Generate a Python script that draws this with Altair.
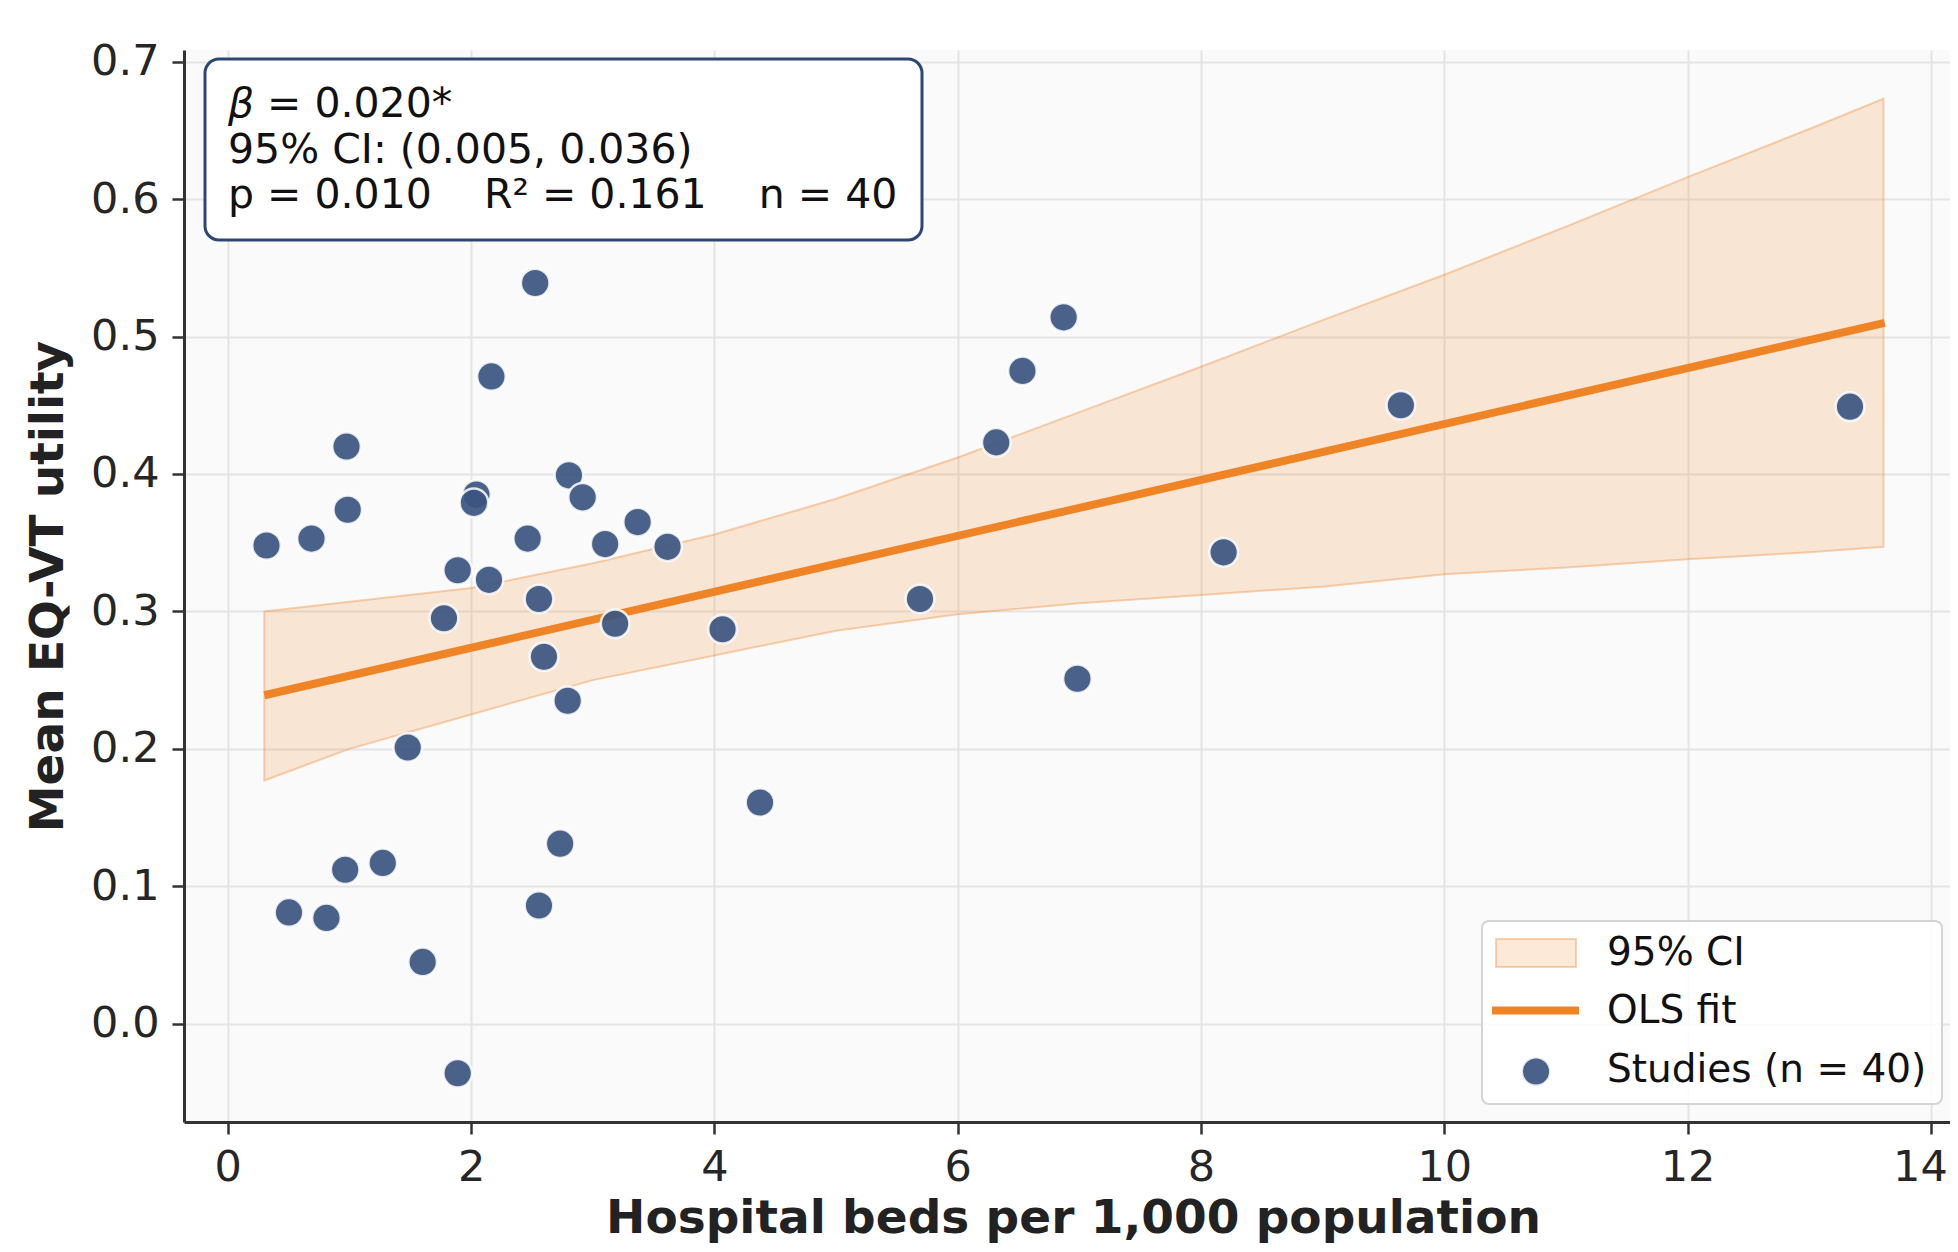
import altair as alt
import pandas as pd

# ---- data ----
beds = [0.318, 0.503, 0.688, 0.811, 0.976, 0.965, 0.986, 1.274, 1.479, 1.602,
        1.777, 1.890, 1.890, 2.044, 2.023, 2.147, 2.167, 2.465, 2.527, 2.558,
        2.558, 2.599, 2.732, 2.794, 2.804, 2.917, 3.102, 3.184, 3.369, 3.615,
        4.067, 4.375, 5.690, 6.317, 6.532, 6.871, 6.984, 8.186, 9.643, 13.335]
utility = [0.348, 0.081, 0.353, 0.077, 0.420, 0.112, 0.374, 0.117, 0.201, 0.045,
           0.295, 0.330, -0.036, 0.385, 0.379, 0.323, 0.471, 0.353, 0.539, 0.309,
           0.086, 0.267, 0.131, 0.235, 0.399, 0.383, 0.349, 0.291, 0.365, 0.347,
           0.287, 0.161, 0.309, 0.423, 0.475, 0.514, 0.251, 0.343, 0.450, 0.449]

fit_x = [0.30, 13.62]
fit_y = [0.239, 0.510]

band_x = [0.30, 1.0, 2.0, 3.0, 4.0, 5.0, 6.0, 7.0, 8.0, 9.0, 10.0, 11.0, 12.0, 13.0, 13.61]
band_hi = [0.300, 0.307, 0.317, 0.335, 0.356, 0.382, 0.412, 0.445, 0.478, 0.512,
           0.545, 0.580, 0.616, 0.651, 0.673]
band_lo = [0.177, 0.200, 0.225, 0.250, 0.268, 0.286, 0.298, 0.306, 0.312, 0.318,
           0.327, 0.332, 0.338, 0.343, 0.347]

x_ticks = [0, 2, 4, 6, 8, 10, 12, 14]
y_ticks = [0.0, 0.1, 0.2, 0.3, 0.4, 0.5, 0.6, 0.7]

stats_lines = ["95% CI: (0.005, 0.036)",
               "p = 0.010\u00a0\u00a0\u00a0\u00a0R\u00b2 = 0.161\u00a0\u00a0\u00a0\u00a0n = 40"]
legend_labels = ["95% CI", "OLS fit", "Studies (n = 40)"]

# ---- layout ----
W, H = 1766, 1072
PX_PER_UNIT = 121.65
X_DOMAIN = [-0.36, -0.36 + W / PX_PER_UNIT]
Y_DOMAIN = [-0.0715, 0.7085]

ORANGE = "#EF8427"
NAVY = "#3B5580"
FONT = "DejaVu Sans"
PT_SIZE = 820

xs = alt.Scale(domain=X_DOMAIN, nice=False, zero=False)
ys = alt.Scale(domain=Y_DOMAIN, nice=False, zero=False)

x_axis = alt.Axis(values=x_ticks, title="Hospital beds per 1,000 population",
                  labelPadding=12, labelFlush=False, labelOverlap=False,
                  labelOffset={"condition": {"test": "datum.value == 14", "value": -11}, "value": 0},
                  titleX=889, titleY=110, titleBaseline="alphabetic", titleAlign="center")
y_axis = alt.Axis(values=y_ticks, format=".1f", title="Mean EQ-VT utility",
                  labelPadding=13, labelOverlap=False,
                  titleX=-122, titleY=H / 2, titleAngle=270,
                  titleBaseline="alphabetic", titleAlign="center")


def X(field):
    return alt.X(field, type="quantitative", scale=xs, axis=x_axis)


def Y(field):
    return alt.Y(field, type="quantitative", scale=ys, axis=y_axis)


pts = pd.DataFrame({"beds": beds, "utility": utility})
band = pd.DataFrame({"x": band_x, "lo": band_lo, "hi": band_hi})
fit = pd.DataFrame({"x": fit_x, "y": fit_y})
one = pd.DataFrame({"a": [0]})

band_layer = alt.Chart(band).mark_area(
    fill=ORANGE, fillOpacity=0.18, stroke=ORANGE, strokeOpacity=0.35, strokeWidth=2
).encode(x=X("x"), y=Y("lo"), y2="hi")

fit_layer = alt.Chart(fit).mark_line(color=ORANGE, strokeWidth=8, strokeCap="butt").encode(
    x=X("x"), y=Y("y"))

pt_layer = alt.Chart(pts).mark_circle(
    size=PT_SIZE, fill=NAVY, fillOpacity=0.92, stroke="#ffffff", strokeWidth=2.5, strokeOpacity=0.85
).encode(x=X("beds"), y=Y("utility"))

# annotation box (positions in plot pixels)
ann_box = alt.Chart(one).mark_rect(
    fill="white", fillOpacity=0.95, stroke="#2C4675", strokeWidth=3, cornerRadius=14
).encode(x=alt.value(21), x2=alt.value(738), y=alt.value(9), y2=alt.value(190))

TXT = dict(align="left", baseline="alphabetic", font=FONT, fontSize=41, color="#111")
beta_txt = alt.Chart(one).mark_text(fontStyle="italic", **TXT).encode(
    x=alt.value(44), y=alt.value(67), text=alt.value("\u03b2"))
beta_rest = alt.Chart(one).mark_text(**TXT).encode(
    x=alt.value(83), y=alt.value(67), text=alt.value("= 0.020*"))
line2 = alt.Chart(one).mark_text(**TXT).encode(
    x=alt.value(44), y=alt.value(113), text=alt.value(stats_lines[0]))
line3 = alt.Chart(one).mark_text(**TXT).encode(
    x=alt.value(44), y=alt.value(158), text=alt.value(stats_lines[1]))

# legend
leg_box = alt.Chart(one).mark_rect(
    fill="white", fillOpacity=0.85, stroke="#d4d4d4", strokeWidth=2, cornerRadius=7
).encode(x=alt.value(1298), x2=alt.value(1758), y=alt.value(871), y2=alt.value(1054))
leg_patch = alt.Chart(one).mark_rect(
    fill=ORANGE, fillOpacity=0.18, stroke=ORANGE, strokeOpacity=0.35, strokeWidth=2
).encode(x=alt.value(1312), x2=alt.value(1392), y=alt.value(889), y2=alt.value(917))
leg_line = alt.Chart(one).mark_rule(color=ORANGE, strokeWidth=8).encode(
    x=alt.value(1308), x2=alt.value(1395), y=alt.value(960.5))
leg_pt = alt.Chart(one).mark_circle(
    size=PT_SIZE, fill=NAVY, fillOpacity=0.92, stroke="#ffffff", strokeWidth=2.5, strokeOpacity=0.85
).encode(x=alt.value(1352), y=alt.value(1021.5))
leg_texts = [
    alt.Chart(one).mark_text(align="left", baseline="alphabetic", font=FONT, fontSize=39,
                             color="#111").encode(x=alt.value(1423), y=alt.value(yy),
                                                  text=alt.value(lab))
    for lab, yy in zip(legend_labels, [915, 972.5, 1031.5])
]

chart = alt.layer(
    band_layer, fit_layer, pt_layer, ann_box, beta_txt, beta_rest, line2, line3,
    leg_box, leg_patch, leg_line, leg_pt, *leg_texts
).properties(
    width=W, height=H,
    padding={"left": 176, "top": 42, "right": 0, "bottom": 122},
    autosize=alt.AutoSizeParams(type="none"),
    background="white",
).configure_view(
    fill="#fafafa", stroke=None
).configure_axis(
    domainColor="#333333", domainWidth=3,
    tickColor="#333333", tickWidth=2.5, tickSize=12,
    labelFont=FONT, labelFontSize=43, labelColor="#262626",
    titleFont=FONT, titleFontSize=47, titleFontWeight="bold", titleColor="#222222",
    gridColor="#e4e4e4", gridWidth=2,
)

chart.save("out.html", embed_options={"renderer": "svg", "actions": False})
